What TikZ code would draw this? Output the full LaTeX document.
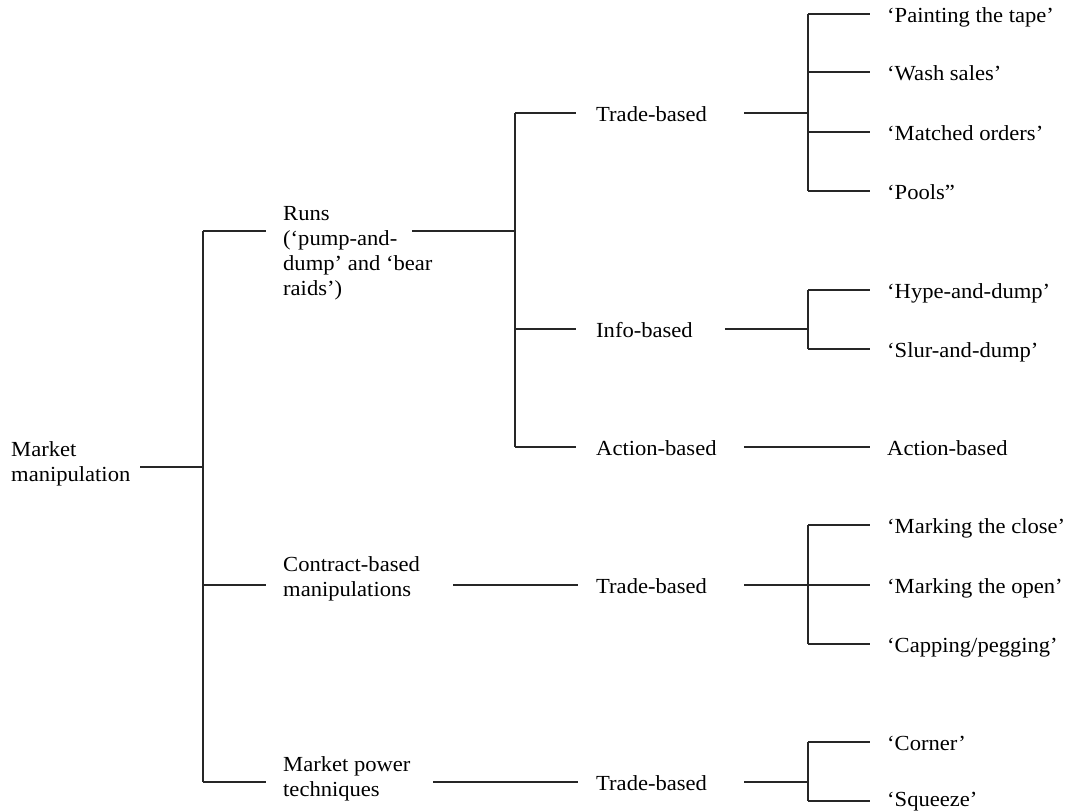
\documentclass[tikz,border=0pt]{standalone}
\usepackage{fontspec}
\setmainfont[FakeStretch=1.05]{Liberation Serif}
\begin{document}
\begin{tikzpicture}[x=1pt,y=-1pt,
  lbl/.style={anchor=west, inner sep=0pt, text height=16pt, text depth=0pt, font=\fontsize{21.5}{25}\selectfont},
  ml/.style={anchor=base west, inner sep=0pt, align=left, font=\fontsize{21.5}{25}\selectfont},
  conn/.style={line width=1.5pt, draw=black!85}]
\useasboundingbox (0,0) rectangle (1071,811);

% level 0 and 1 labels (anchored at the baseline of their last line)
\node[ml] (mm) at (11,481) {Market\\manipulation};
\node[ml] (runs) at (283,295) {Runs\\(‘pump-and-\\dump’ and ‘bear\\raids’)};
\node[ml] (cb) at (283,596) {Contract-based\\manipulations};
\node[ml] (mp) at (283,796) {Market power\\techniques};

% level 2 labels
\node[lbl] (tb1) at (596,113) {Trade-based};
\node[lbl] (ib) at (596,329) {Info-based};
\node[lbl] (ab) at (596,447) {Action-based};
\node[lbl] (tb2) at (596,585) {Trade-based};
\node[lbl] (tb3) at (596,782) {Trade-based};

% leaves
\node[lbl] (l1) at (887,14) {‘Painting the tape’};
\node[lbl] (l2) at (887,72) {‘Wash sales’};
\node[lbl] (l3) at (887,132) {‘Matched orders’};
\node[lbl] (l4) at (887,191) {‘Pools”};
\node[lbl] (l5) at (887,290) {‘Hype-and-dump’};
\node[lbl] (l6) at (887,349) {‘Slur-and-dump’};
\node[lbl] (l7) at (887,447) {Action-based};
\node[lbl] (l8) at (887,525) {‘Marking the close’};
\node[lbl] (l9) at (887,585) {‘Marking the open’};
\node[lbl] (l10) at (887,644) {‘Capping/pegging’};
\node[lbl] (l11) at (887,742) {‘Corner’};
\node[lbl, text height=10pt] (l12) at (887,801) {‘Squeeze’};

% connection points
\coordinate (mmR) at (140,467);
\coordinate (J1) at (203,467);
\coordinate (runsL) at (266,231);
\coordinate (runsR) at (412,231);
\coordinate (J2) at (515,231);
\coordinate (cbL) at (266,585);
\coordinate (cbR) at (453,585);
\coordinate (mpL) at (266,782);
\coordinate (mpR) at (433,782);
\coordinate (J3) at (808,0);

% trunk
\draw[conn] (mmR) -- (J1);
\draw[conn] (J1 |- runsL) -- (J1 |- mpL);
\draw[conn] (J1 |- runsL) -- (runsL);
\draw[conn] (J1 |- cbL) -- (cbL);
\draw[conn] (J1 |- mpL) -- (mpL);

% runs branch
\draw[conn] (runsR) -- (J2);
\draw[conn] (J2 |- tb1.west) -- (J2 |- ab.west);
\draw[conn] (J2 |- tb1.west) -- ([xshift=-20pt]tb1.west);
\draw[conn] (J2 |- ib.west) -- ([xshift=-20pt]ib.west);
\draw[conn] (J2 |- ab.west) -- ([xshift=-20pt]ab.west);

% trade-based (runs)
\draw[conn] ([xshift=37pt]tb1.east) -- (J3 |- tb1.east);
\draw[conn] (J3 |- l1.west) -- (J3 |- l4.west);
\foreach \n in {l1,l2,l3,l4}
  \draw[conn] (J3 |- \n.west) -- ([xshift=-17pt]\n.west);

% info-based
\draw[conn] ([xshift=32pt]ib.east) -- (J3 |- ib.east);
\draw[conn] (J3 |- l5.west) -- (J3 |- l6.west);
\foreach \n in {l5,l6}
  \draw[conn] (J3 |- \n.west) -- ([xshift=-17pt]\n.west);

% action-based
\draw[conn] ([xshift=27pt]ab.east) -- ([xshift=-17pt]l7.west);

% contract-based
\draw[conn] (cbR) -- ([xshift=-18pt]tb2.west);
\draw[conn] ([xshift=37pt]tb2.east) -- (J3 |- tb2.east);
\draw[conn] (J3 |- l8.west) -- (J3 |- l10.west);
\foreach \n in {l8,l9,l10}
  \draw[conn] (J3 |- \n.west) -- ([xshift=-17pt]\n.west);

% market power
\draw[conn] (mpR) -- ([xshift=-18pt]tb3.west);
\draw[conn] ([xshift=37pt]tb3.east) -- (J3 |- tb3.east);
\draw[conn] (J3 |- l11.west) -- (J3 |- l12.west);
\foreach \n in {l11,l12}
  \draw[conn] (J3 |- \n.west) -- ([xshift=-17pt]\n.west);
\end{tikzpicture}
\end{document}
